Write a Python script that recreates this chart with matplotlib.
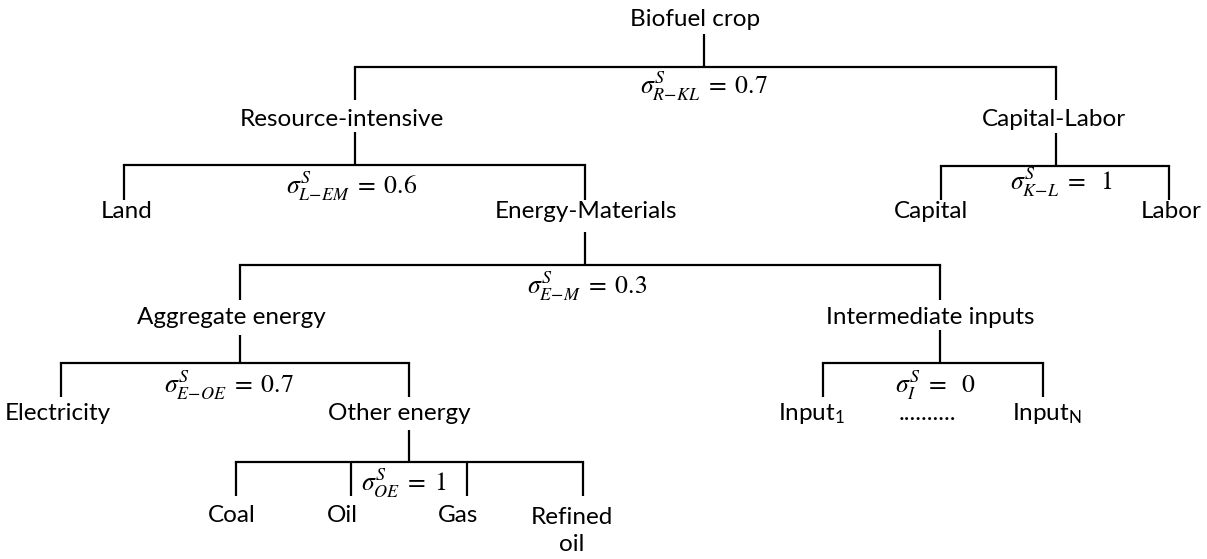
import matplotlib.pyplot as plt

plt.rcParams['font.family'] = ['Lato', 'DejaVu Sans']
plt.rcParams['mathtext.fontset'] = 'stix'

# CES nesting tree: one entry per nest
nest_parent = ['Biofuel crop', 'Resource-intensive', 'Capital-Labor', 'Energy-Materials',
               'Aggregate energy', 'Intermediate inputs', 'Other energy']
nest_sigma_sub = ['R{-}KL', 'L{-}EM', 'K{-}L', 'E{-}M', 'E{-}OE', 'I', 'OE']
nest_sigma_val = ['0.7', '0.6', '\\ 1', '0.3', '0.7', '\\ 0', '1']
nest_children = [
    ['Resource-intensive', 'Capital-Labor'],
    ['Land', 'Energy-Materials'],
    ['Capital', 'Labor'],
    ['Aggregate energy', 'Intermediate inputs'],
    ['Electricity', 'Other energy'],
    ['Input_1', 'Input_N'],
    ['Coal', 'Oil', 'Gas', 'Refined oil'],
]
display = {'Input_1': 'Input$_\\mathregular{1}$', 'Input_N': 'Input$_\\mathregular{N}$',
           'Refined oil': 'Refined\noil'}

# layout (pixels): node -> (line x, label x, label y)
node_pos = {
    'Biofuel crop': (704, 695, 19),
    'Resource-intensive': (355, 342, 120),
    'Capital-Labor': (1056, 1054, 119),
    'Land': (124, 127, 212),
    'Energy-Materials': (585, 586, 212),
    'Capital': (941, 931, 211),
    'Labor': (1169, 1171, 211),
    'Aggregate energy': (240, 231, 318),
    'Intermediate inputs': (940, 930, 318),
    'Electricity': (61, 58, 414),
    'Other energy': (409, 399, 414),
    'Input_1': (823, 812, 414),
    'Input_N': (1043, 1047, 414),
    'Coal': (236, 232, 516),
    'Oil': (351, 342, 516),
    'Gas': (467, 458, 516),
    'Refined oil': (583, 572, 531),
}
# nest -> (stem top, bar y, drop bottom, sigma x, sigma y)
nest_geom = [
    (34, 67, 100, 704, 86),
    (132, 165, 200, 352, 186),
    (133, 166, 200, 1061, 182),
    (232, 265, 300, 587, 286),
    (335, 363, 397, 229, 385),
    (330, 363, 397, 935, 385),
    (430, 462, 496, 404, 483),
]

W, H = 1207, 559
fig = plt.figure(figsize=(W / 100, H / 100), dpi=100)
ax = fig.add_axes([0, 0, 1, 1])
ax.set_xlim(0, W)
ax.set_ylim(H, 0)
ax.axis('off')

lw = 1.6
for parent, sub, val, kids, geom in zip(nest_parent, nest_sigma_sub, nest_sigma_val,
                                          nest_children, nest_geom):
    top, bar, bottom, sx, sy = geom
    px = node_pos[parent][0]
    ax.plot([px, px], [top, bar], color='black', lw=lw, solid_capstyle='butt')
    xs = [node_pos[k][0] for k in kids]
    ax.plot([min(xs), max(xs)], [bar, bar], color='black', lw=lw, solid_capstyle='projecting')
    for x in xs:
        ax.plot([x, x], [bar, bottom], color='black', lw=lw, solid_capstyle='butt')
    ax.text(sx, sy, '$\\sigma^{S}_{%s}\\;=\\;%s$' % (sub, val), ha='center', va='center',
            fontsize=18.5)

for name, (lx, tx, ty) in node_pos.items():
    ax.text(tx, ty, display.get(name, name), ha='center', va='center', fontsize=17.5,
            linespacing=1.3)

ax.text(927, 413, '..........', ha='center', va='center', fontsize=17.5)

fig.savefig('out.png', dpi=100)
